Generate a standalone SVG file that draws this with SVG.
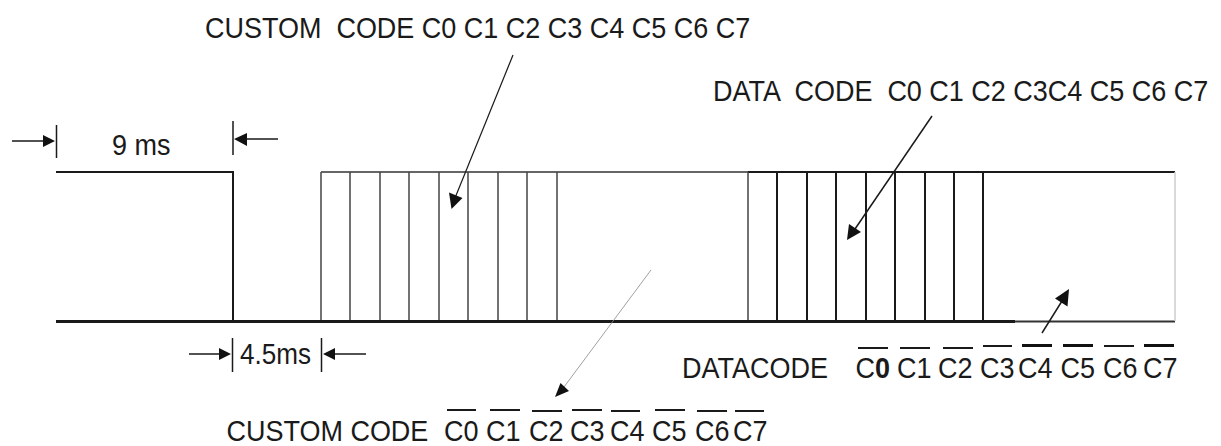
<svg xmlns="http://www.w3.org/2000/svg" width="1221" height="446" viewBox="0 0 1221 446">
<style>
text{font-family:"Liberation Sans",Arial,sans-serif;font-size:30px;fill:#1a1a1a;white-space:pre}
.s{stroke:#1a1a1a;fill:none}
.a{fill:#111;stroke:none}
.ov{stroke:#1a1a1a;stroke-width:2;fill:none}
.ovb{stroke:#111;stroke-width:3;fill:none}
</style>
<rect width="1221" height="446" fill="#fff"/>
<g id="waveform">
<path class="s" stroke-width="2" d="M56 172H233V321"/>
<path class="s" stroke-width="3" d="M56 321.500H1015"/>
<path d="M1015 321.500H1175" stroke="#333" stroke-width="2" fill="none"/>
<path d="M321 172H748" stroke="#333" stroke-width="1.500" fill="none"/>
<path d="M748 172H1175" class="s" stroke-width="2"/>
<path d="M1175 172V321" stroke="#ccc" stroke-width="1.500" fill="none"/>
<path d="M321 172V320M350 172V320M380 172V320M409 172V320M439 172V320M468 172V320M498 172V320M527 172V320M557 172V320M748 172V320" stroke="#444" stroke-width="1.500" fill="none"/>
<path class="s" stroke-width="2" d="M777 172V320M807 172V320M836 172V320M866 172V320M895 172V320M925 172V320M954 172V320M983 172V320"/>
</g>
<g id="connectors">
<path class="s" stroke-width="1.500" d="M12 141H46M56.500 125V158M233 121V155M245 139H278M189 354H224M232.500 338V372M321.500 338V372M332 354H366"/>
<path class="a" d="M55 141L43 135V147ZM234 139L247 133V146ZM231 354L219 348V360ZM323 354L335 348V360Z"/>
<path class="s" stroke-width="1.200" d="M513 55L455 198"/>
<path class="a" d="M451.500 209L449 192.500L462.500 198Z"/>
<path class="s" stroke-width="1.500" d="M932 116L855 229"/>
<path class="a" d="M847 240L849 224L861 232Z"/>
<path stroke="#888" stroke-width="0.800" fill="none" d="M651 270L564 387"/>
<path class="a" d="M555 397L560.500 383L569 391Z"/>
<path class="s" stroke-width="1.500" d="M1042 333L1062 301"/>
<path class="a" d="M1069 289L1055 298.500L1067.500 306.500Z"/>
</g>
<g id="label-9ms"><text transform="matrix(.9 0 0 1 112 155)">9 ms</text></g>
<g id="label-4-5ms"><text transform="matrix(.9 0 0 1 240 364)" style="font-size:29px">4.5ms</text></g>
<g id="label-custom-top"><text transform="matrix(.9 0 0 1 205 38)">CUSTOM  CODE C0 C1 C2 C3 C4 C5 C6 C7</text></g>
<g id="label-data-top"><text transform="matrix(.9 0 0 1 713 101)">DATA  CODE  C0 C1 C2 C3C4 C5 C6 C7</text></g>
<g id="label-data-bottom">
<text transform="matrix(.9 0 0 1 682 378)">DATACODE</text>
<text transform="matrix(.9 0 0 1 855.500 378)">C<tspan font-weight="bold">0</tspan></text>
<text transform="matrix(.9 0 0 1 897 378)">C1</text>
<text transform="matrix(.9 0 0 1 938 378)">C2</text>
<text transform="matrix(.9 0 0 1 980 378)">C3</text>
<text transform="matrix(.9 0 0 1 1018 378)">C4</text>
<text transform="matrix(.9 0 0 1 1060.500 378)">C5</text>
<text transform="matrix(.9 0 0 1 1103 378)">C6</text>
<text transform="matrix(.9 0 0 1 1143 378)">C7</text>
<path class="ov" d="M858 348H888M900 348H930M943 348H973M983 346H1012M1104 346H1134"/>
<path class="ovb" d="M1022 345.500H1052M1063 345.500H1093M1144 345.500H1174"/>
</g>
<g id="label-custom-bottom">
<text transform="matrix(.9 0 0 1 226.500 441)">CUSTOM CODE</text>
<text transform="matrix(.9 0 0 1 444 441)">C0</text>
<text transform="matrix(.9 0 0 1 486 441)">C1</text>
<text transform="matrix(.9 0 0 1 529 441)">C2</text>
<text transform="matrix(.9 0 0 1 570 441)">C3</text>
<text transform="matrix(.9 0 0 1 610 441)">C4</text>
<text transform="matrix(.9 0 0 1 652 441)">C5</text>
<text transform="matrix(.9 0 0 1 695 441)">C6</text>
<text transform="matrix(.9 0 0 1 733 441)">C7</text>
<path class="ov" d="M447 410H476M490 410H520M532 411H562M572 410H602M611 411H640M655 410H685M697 411H727M735 411H764"/>
</g>
</svg>
